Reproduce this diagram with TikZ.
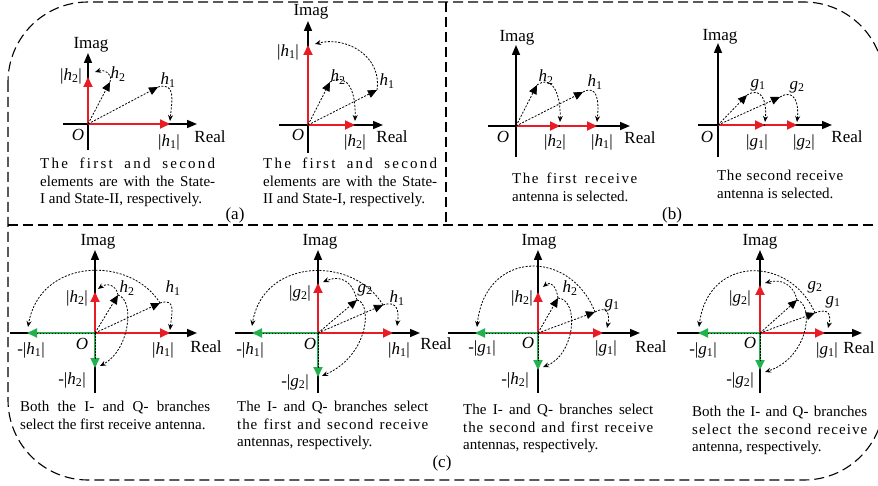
\documentclass[tikz,border=0pt]{standalone}
\usepackage{fontspec}
\setmainfont{Liberation Serif}
\usetikzlibrary{arrows.meta}
\definecolor{myred}{RGB}{232,28,36}
\definecolor{mygreen}{RGB}{34,177,76}
\newcommand\myvar[2]{\textit{#1}\textsubscript{#2}}
\newcommand\jline[3]{\makebox[#1pt][s]{\addfontfeatures{LetterSpace=#2}#3}}
\newcommand\sline[2]{\makebox[#1pt][s]{#2}}
\newcommand\mkaxes[7]{%
  \coordinate (#1) at (#2,#3);
  \coordinate (#1-L) at (#4,#3);
  \coordinate (#1-R) at (#5,#3);
  \coordinate (#1-T) at (#2,#6);
  \coordinate (#1-B) at (#2,#7);
  \draw[axline] (#1-L) -- (#1-R);
  \draw[axline] (#1-B) -- (#1-T);}
\begin{document}
\begin{tikzpicture}[x=1pt,y=-1pt,
  axline/.style={line width=1.5pt,-{Triangle[length=10pt,width=8pt]}},
  redv/.style={draw=myred,line width=2pt,-{Triangle[length=10pt,width=9pt]},color=myred},
  grnv/.style={draw=mygreen,line width=2pt,-{Triangle[length=10pt,width=9pt]},color=mygreen},
  grndash/.style={draw=black,line width=0.6pt,dash pattern=on 1.5pt off 1.5pt,shorten >=9pt},
  vec/.style={line width=0.8pt,dash pattern=on 2pt off 1.5pt,-{Triangle[length=9pt,width=8pt]}},
  rotarr/.style={line width=0.8pt,dash pattern=on 2pt off 1.5pt,-{Stealth[length=6pt,width=5pt]}},
  lbl/.style={font=\fontsize{17}{17}\selectfont,inner sep=0pt},
  captext/.style={font=\fontsize{15}{17.5}\selectfont,align=left,inner sep=0pt,anchor=north west},
  outerframe/.style={line width=1.1pt,dash pattern=on 10pt off 5pt}]
\useasboundingbox (0,0) rectangle (878,486);
\clip (0,0) rectangle (878,486);
% frame
\draw[outerframe,rounded corners=80pt] (8,2) rectangle (884,480);
\coordinate (dl) at (8,225); \coordinate (dr) at (884,225);
\coordinate (vt) at (446,2); \coordinate (vb) at (446,225);
\draw[outerframe] (dl) -- (dr);
\draw[outerframe] (vt) -- (vb);
\node[lbl] (la) at (235,215) {(a)};
\node[lbl] (lb) at (672,215) {(b)};
\node[lbl] (lc) at (442,463) {(c)};

% ---------- Panel A ----------
\mkaxes{A}{88}{124}{63}{197}{53}{150}
\coordinate (A-r1) at (170,124); \coordinate (A-r2) at (88,77);
\draw[redv] (A) -- (A-r1); \draw[redv] (A) -- (A-r2);
\coordinate (A-h1) at (158,87); \coordinate (A-h2) at (110,82);
\draw[vec] (A) -- (A-h1); \draw[vec] (A) -- (A-h2);
\coordinate (A-e1) at (170,121); \coordinate (A-e2) at (95,72);
\draw[rotarr] (A-h1) .. controls (176,82) and (172,100) .. (A-e1);
\draw[rotarr] (A-h2) .. controls (113,74) and (105,69) .. (A-e2);
\node[lbl] (A-im) at (91,45) {Imag};
\node[lbl] (A-re) at (210,137) {Real};
\node[lbl] (A-o) at (78,135) {\textit{O}};
\node[lbl] (A-l2) at (71,76) {|\myvar{h}{2}|};
\node[lbl] (A-l1) at (169,142) {|\myvar{h}{1}|};
\node[lbl] (A-v2) at (118,74) {\myvar{h}{2}};
\node[lbl] (A-v1) at (168,80) {\myvar{h}{1}};
\node[captext] (A-cap) at (40,158) {\jline{175}{15}{The first and second}\\ \sline{175}{elements are with the State-}\\ I and State-II, respectively.};

% ---------- Panel B ----------
\mkaxes{B}{308}{125}{279}{383}{21}{153}
\coordinate (B-r1) at (355,125); \coordinate (B-r2) at (308,45);
\draw[redv] (B) -- (B-r1); \draw[redv] (B) -- (B-r2);
\coordinate (B-h1) at (377,90); \coordinate (B-h2) at (330,82);
\draw[vec] (B) -- (B-h1); \draw[vec] (B) -- (B-h2);
\coordinate (B-e1) at (315,44); \coordinate (B-e2) at (355,121);
\draw[rotarr] (B-h1) .. controls (382,55) and (345,36) .. (B-e1);
\draw[rotarr] (B-h2) .. controls (348,72) and (356,92) .. (B-e2);
\node[lbl] (B-im) at (311,12) {Imag};
\node[lbl] (B-re) at (392,137) {Real};
\node[lbl] (B-o) at (298,135) {\textit{O}};
\node[lbl] (B-l1) at (288,52) {|\myvar{h}{1}|};
\node[lbl] (B-l2) at (355,142) {|\myvar{h}{2}|};
\node[lbl] (B-v2) at (338,77) {\myvar{h}{2}};
\node[lbl] (B-v1) at (387,81) {\myvar{h}{1}};
\node[captext] (B-cap) at (263,158) {\jline{174}{15}{The first and second}\\ \sline{174}{elements are with the State-}\\ II and State-I, respectively.};

% ---------- Panel C ----------
\mkaxes{C}{516}{126}{488}{630}{45}{157}
\coordinate (C-m) at (560,126); \coordinate (C-r) at (597,126);
\draw[redv] (C) -- (C-m); \draw[redv] (C-m) -- (C-r);
\coordinate (C-h1) at (583,92); \coordinate (C-h2) at (537,85);
\draw[vec] (C) -- (C-h1); \draw[vec] (C) -- (C-h2);
\coordinate (C-e1) at (597,122); \coordinate (C-e2) at (560,122);
\draw[rotarr] (C-h2) .. controls (553,74) and (561,96) .. (C-e2);
\draw[rotarr] (C-h1) .. controls (598,84) and (599,102) .. (C-e1);
\node[lbl] (C-im) at (517,38) {Imag};
\node[lbl] (C-re) at (640,138) {Real};
\node[lbl] (C-o) at (503,137) {\textit{O}};
\node[lbl] (C-l2) at (555,142) {|\myvar{h}{2}|};
\node[lbl] (C-l1) at (602,142) {|\myvar{h}{1}|};
\node[lbl] (C-v2) at (546,77) {\myvar{h}{2}};
\node[lbl] (C-v1) at (595,82) {\myvar{h}{1}};
\node[captext] (C-cap) at (512,173) {\jline{125}{10}{The first receive}\\ antenna is selected.};

% ---------- Panel D ----------
\mkaxes{D}{718}{125}{698}{832}{43}{157}
\coordinate (D-m) at (765,125); \coordinate (D-r) at (797,125);
\draw[redv] (D) -- (D-m); \draw[redv] (D-m) -- (D-r);
\coordinate (D-g1) at (747,95); \coordinate (D-g2) at (780,97);
\draw[vec] (D) -- (D-g1); \draw[vec] (D) -- (D-g2);
\coordinate (D-e1) at (765,122); \coordinate (D-e2) at (797,122);
\draw[rotarr] (D-g1) .. controls (762,86) and (767,102) .. (D-e1);
\draw[rotarr] (D-g2) .. controls (795,88) and (799,104) .. (D-e2);
\node[lbl] (D-im) at (720,37) {Imag};
\node[lbl] (D-re) at (847,137) {Real};
\node[lbl] (D-o) at (707,137) {\textit{O}};
\node[lbl] (D-l1) at (757,142) {|\myvar{g}{1}|};
\node[lbl] (D-l2) at (804,142) {|\myvar{g}{2}|};
\node[lbl] (D-v1) at (758,85) {\myvar{g}{1}};
\node[lbl] (D-v2) at (797,87) {\myvar{g}{2}};
\node[captext] (D-cap) at (717,170) {\jline{126}{4}{The second receive}\\ antenna is selected.};

% ---------- Panel E ----------
\mkaxes{E}{95}{333}{10}{197}{250}{393}
\coordinate (E-r1) at (170,333); \coordinate (E-r2) at (95,292);
\coordinate (E-g1) at (27,333); \coordinate (E-g2) at (95,368);
\draw[redv] (E) -- (E-r1); \draw[redv] (E) -- (E-r2);
\draw[grnv] (E) -- (E-g1); \draw[grnv] (E) -- (E-g2);
\draw[grndash] (E) -- (E-g1); \draw[grndash] (E) -- (E-g2);
\coordinate (E-h1) at (160,303); \coordinate (E-h2) at (118,295);
\draw[vec] (E) -- (E-h1); \draw[vec] (E) -- (E-h2);
\coordinate (E-e1) at (170,330); \coordinate (E-e2) at (28,327);
\coordinate (E-e3) at (98,289); \coordinate (E-e4) at (100,366);
\draw[rotarr] (E-h1) .. controls (176,298) and (172,312) .. (E-e1);
\draw[rotarr] (E-h1) .. controls (130,255) and (40,258) .. (E-e2);
\draw[rotarr] (E-h2) .. controls (116,284) and (106,283) .. (E-e3);
\draw[rotarr] (E-h2) .. controls (135,300) and (130,350) .. (E-e4);
\node[lbl] (E-im) at (98,242) {Imag};
\node[lbl] (E-re) at (206,347) {Real};
\node[lbl] (E-o) at (82,344) {\textit{O}};
\node[lbl] (E-l2) at (77,298) {|\myvar{h}{2}|};
\node[lbl] (E-l1) at (163,350) {|\myvar{h}{1}|};
\node[lbl] (E-n1) at (31,350) {-|\myvar{h}{1}|};
\node[lbl] (E-n2) at (72,380) {-|\myvar{h}{2}|};
\node[lbl] (E-v2) at (127,288) {\myvar{h}{2}};
\node[lbl] (E-v1) at (173,288) {\myvar{h}{1}};
\node[captext] (E-cap) at (20,401) {\sline{190}{Both the I- and Q- branches}\\ select the first receive antenna.};

% ---------- Panel F ----------
\mkaxes{F}{318}{333}{235}{420}{250}{393}
\coordinate (F-r1) at (393,333); \coordinate (F-r2) at (318,283);
\coordinate (F-g1) at (252,333); \coordinate (F-g2) at (318,377);
\draw[redv] (F) -- (F-r1); \draw[redv] (F) -- (F-r2);
\draw[grnv] (F) -- (F-g1); \draw[grnv] (F) -- (F-g2);
\draw[grndash] (F) -- (F-g1); \draw[grndash] (F) -- (F-g2);
\coordinate (F-h1) at (383,305); \coordinate (F-k2) at (357,300);
\draw[vec] (F) -- (F-h1); \draw[vec] (F) -- (F-k2);
\coordinate (F-e1) at (397,326); \coordinate (F-e2) at (252,326);
\coordinate (F-e3) at (323,282); \coordinate (F-e4) at (322,376);
\draw[rotarr] (F-h1) .. controls (398,300) and (399,312) .. (F-e1);
\draw[rotarr] (F-h1) .. controls (353,255) and (263,258) .. (F-e2);
\draw[rotarr] (F-k2) .. controls (352,280) and (340,275) .. (F-e3);
\draw[rotarr] (F-k2) .. controls (372,302) and (370,355) .. (F-e4);
\node[lbl] (F-im) at (320,242) {Imag};
\node[lbl] (F-re) at (436,344) {Real};
\node[lbl] (F-o) at (310,344) {\textit{O}};
\node[lbl] (F-l2) at (300,293) {|\myvar{g}{2}|};
\node[lbl] (F-l1) at (399,350) {|\myvar{h}{1}|};
\node[lbl] (F-n1) at (250,350) {-|\myvar{h}{1}|};
\node[lbl] (F-n2) at (295,382) {-|\myvar{g}{2}|};
\node[lbl] (F-v2) at (365,290) {\myvar{g}{2}};
\node[lbl] (F-v1) at (397,298) {\myvar{h}{1}};
\node[captext] (F-cap) at (237,401) {\sline{191}{The I- and Q- branches select}\\ \jline{191}{6}{the first and second receive}\\ antennas, respectively.};

% ---------- Panel G ----------
\mkaxes{G}{538}{333}{448}{640}{250}{393}
\coordinate (G-r1) at (603,333); \coordinate (G-r2) at (538,292);
\coordinate (G-g1) at (475,333); \coordinate (G-g2) at (538,370);
\draw[redv] (G) -- (G-r1); \draw[redv] (G) -- (G-r2);
\draw[grnv] (G) -- (G-g1); \draw[grnv] (G) -- (G-g2);
\draw[grndash] (G) -- (G-g1); \draw[grndash] (G) -- (G-g2);
\coordinate (G-k1) at (595,312); \coordinate (G-h2) at (558,298);
\draw[vec] (G) -- (G-k1); \draw[vec] (G) -- (G-h2);
\coordinate (G-e1) at (607,328); \coordinate (G-e2) at (477,327);
\coordinate (G-e3) at (543,287); \coordinate (G-e4) at (543,367);
\draw[rotarr] (G-k1) .. controls (608,305) and (610,315) .. (G-e1);
\draw[rotarr] (G-k1) .. controls (570,248) and (485,250) .. (G-e2);
\draw[rotarr] (G-h2) .. controls (556,285) and (550,281) .. (G-e3);
\draw[rotarr] (G-h2) .. controls (580,300) and (575,355) .. (G-e4);
\node[lbl] (G-im) at (539,242) {Imag};
\node[lbl] (G-re) at (651,347) {Real};
\node[lbl] (G-o) at (528,343) {\textit{O}};
\node[lbl] (G-l2) at (522,298) {|\myvar{h}{2}|};
\node[lbl] (G-l1) at (606,348) {|\myvar{g}{1}|};
\node[lbl] (G-n1) at (482,348) {-|\myvar{g}{1}|};
\node[lbl] (G-n2) at (515,380) {-|\myvar{h}{2}|};
\node[lbl] (G-v2) at (570,288) {\myvar{h}{2}};
\node[lbl] (G-v1) at (612,305) {\myvar{g}{1}};
\node[captext] (G-cap) at (463,404) {\sline{190}{The I- and Q- branches select}\\ \jline{190}{6}{the second and first receive}\\ antennas, respectively.};

% ---------- Panel H ----------
\mkaxes{H}{760}{333}{677}{862}{250}{393}
\coordinate (H-r1) at (825,333); \coordinate (H-r2) at (760,285);
\coordinate (H-g1) at (698,333); \coordinate (H-g2) at (760,370);
\draw[redv] (H) -- (H-r1); \draw[redv] (H) -- (H-r2);
\draw[grnv] (H) -- (H-g1); \draw[grnv] (H) -- (H-g2);
\draw[grndash] (H) -- (H-g1); \draw[grndash] (H) -- (H-g2);
\coordinate (H-k1) at (815,313); \coordinate (H-k2) at (797,300);
\draw[vec] (H) -- (H-k1); \draw[vec] (H) -- (H-k2);
\coordinate (H-e1) at (828,328); \coordinate (H-e2) at (699,327);
\coordinate (H-e3) at (765,283); \coordinate (H-e4) at (765,372);
\draw[rotarr] (H-k1) .. controls (830,307) and (831,316) .. (H-e1);
\draw[rotarr] (H-k1) .. controls (790,255) and (708,255) .. (H-e2);
\draw[rotarr] (H-k2) .. controls (793,283) and (780,279) .. (H-e3);
\draw[rotarr] (H-k2) .. controls (815,305) and (808,358) .. (H-e4);
\node[lbl] (H-im) at (760,242) {Imag};
\node[lbl] (H-re) at (859,348) {Real};
\node[lbl] (H-o) at (750,343) {\textit{O}};
\node[lbl] (H-l2) at (740,298) {|\myvar{g}{2}|};
\node[lbl] (H-l1) at (827,350) {|\myvar{g}{1}|};
\node[lbl] (H-n1) at (703,350) {-|\myvar{g}{1}|};
\node[lbl] (H-n2) at (740,380) {-|\myvar{g}{2}|};
\node[lbl] (H-v2) at (815,287) {\myvar{g}{2}};
\node[lbl] (H-v1) at (833,302) {\myvar{g}{1}};
\node[captext] (H-cap) at (692,406) {\sline{175}{Both the I- and Q- branches}\\ \jline{175}{7}{select the second receive}\\ antenna, respectively.};
\end{tikzpicture}
\end{document}
